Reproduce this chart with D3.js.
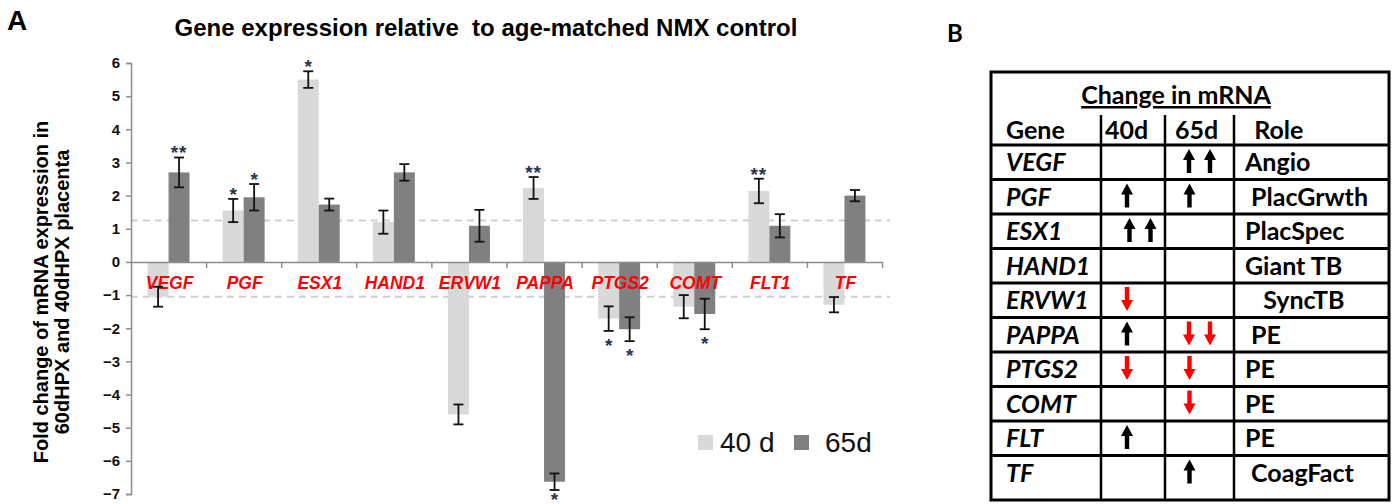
<!DOCTYPE html>
<html>
<head>
<meta charset="utf-8">
<script src="https://cdn.jsdelivr.net/npm/d3@7"></script>
<style>
  html, body { margin: 0; padding: 0; background: #fff; }
  svg { display: block; }
  text { white-space: pre; }
</style>
</head>
<body>
<svg id="chart" width="1395" height="504"></svg>
<script>
// ---------------- Data: panel A ----------------
const genes = ["VEGF", "PGF", "ESX1", "HAND1", "ERVW1", "PAPPA", "PTGS2", "COMT", "FLT1", "TF"];
const seriesNames = ["40 d", "65d"];
const values40 = [-1.05, 1.55, 5.5, 1.2, -4.6, 2.23, -1.71, -1.35, 2.14, -1.29];
const errors40 = [0.3, 0.35, 0.25, 0.35, 0.3, 0.33, 0.37, 0.35, 0.37, 0.23];
const values65 = [2.7, 1.95, 1.73, 2.7, 1.09, -6.63, -2.03, -1.57, 1.09, 2.0];
const errors65 = [0.45, 0.4, 0.18, 0.25, 0.48, 0.25, 0.36, 0.46, 0.35, 0.17];
const sig40 = ["", "*", "*", "", "", "**", "*", "", "**", ""];
const sig65 = ["**", "*", "", "", "", "*", "*", "*", "", ""];
const yTicks = [-7, -6, -5, -4, -3, -2, -1, 0, 1, 2, 3, 4, 5, 6];
const thresholds = [1.25, -1.05];
const chartTitle = "Gene expression relative  to age-matched NMX control";
const yLabelLines = ["Fold change of mRNA expression in", "60dHPX and 40dHPX placenta"];

// ---------------- Data: panel B ----------------
const tableTitle = "Change in mRNA";
const tableHeaders = ["Gene", "40d", "65d", "  Role"];
const tableGenes = ["VEGF", "PGF", "ESX1", "HAND1", "ERVW1", "PAPPA", "PTGS2", "COMT", "FLT", "TF"];
const change40 = [0, 1, 2, 0, -1, 1, -1, 0, 1, 0];   // +n = n up arrows, -n = n down arrows
const change65 = [2, 1, 0, 0, 0, -2, -1, -1, 0, 1];
const roles = ["Angio", " PlacGrwth", "PlacSpec", "Giant TB", "   SyncTB", " PE", "PE", "PE", "PE", " CoagFact"];

// ---------------- Panel A ----------------
const svg = d3.select("#chart");
const C40 = "#d9d9d9", C65 = "#808080", AXIS = "#8c8c8c";
const SANS = "'Liberation Sans', Arial, sans-serif";

const y = d3.scaleLinear().domain([-7, 6]).range([494, 63]);
const x = d3.scaleBand().domain(genes).range([131, 882]).padding(0);
const xs = d3.scaleBand().domain(seriesNames).range([0, x.bandwidth()]).paddingInner(0).paddingOuter(0.79);

const A = svg.append("g");

// title and panel letter
A.append("text").attr("x", 7).attr("y", 30).text("A")
  .attr("font-family", SANS).attr("font-weight", "bold").attr("font-size", 28);
A.append("text").attr("x", 486).attr("y", 36).attr("text-anchor", "middle").text(chartTitle)
  .attr("font-family", SANS).attr("font-weight", "bold").attr("font-size", 24);

// y label
const yl = A.append("text").attr("transform", "translate(0,292) rotate(-90)")
  .attr("text-anchor", "middle").attr("font-family", SANS).attr("font-weight", "bold").attr("font-size", 20);
yl.selectAll("tspan").data(yLabelLines).join("tspan")
  .attr("x", 0).attr("y", (d, i) => 48 + i * 21).text(d => d);

// dashed threshold lines
A.selectAll("line.thr").data(thresholds).join("line").attr("class", "thr")
  .attr("x1", 131).attr("x2", 890).attr("y1", d => y(d)).attr("y2", d => y(d))
  .attr("stroke", "#cfcfcf").attr("stroke-width", 2).attr("stroke-dasharray", "7,5");

// bars
const rows = genes.map((g, i) => [
  { g, s: seriesNames[0], v: values40[i], e: errors40[i], sig: sig40[i], c: C40 },
  { g, s: seriesNames[1], v: values65[i], e: errors65[i], sig: sig65[i], c: C65 }
]).flat();

A.selectAll("rect.bar").data(rows).join("rect").attr("class", "bar")
  .attr("x", d => x(d.g) + xs(d.s)).attr("width", xs.bandwidth())
  .attr("y", d => y(Math.max(0, d.v))).attr("height", d => Math.abs(y(d.v) - y(0)))
  .attr("fill", d => d.c);

// category labels (drawn over bars)
A.selectAll("text.cat").data(genes).join("text").attr("class", "cat")
  .attr("x", d => x(d) + x.bandwidth() / 2 + 1).attr("y", 289).attr("text-anchor", "middle")
  .attr("font-family", SANS).attr("font-style", "italic").attr("font-weight", "bold")
  .attr("font-size", 17.5).attr("fill", "#ff0000")
  .text(d => d);

// error bars
const eb = A.selectAll("g.err").data(rows).join("g").attr("class", "err")
  .attr("transform", d => `translate(${x(d.g) + xs(d.s) + xs.bandwidth() / 2},0)`);
eb.append("line").attr("y1", d => y(d.v + d.e)).attr("y2", d => y(d.v - d.e))
  .attr("stroke", "#111").attr("stroke-width", 1.8);
eb.append("line").attr("x1", -5).attr("x2", 5).attr("y1", d => y(d.v + d.e)).attr("y2", d => y(d.v + d.e))
  .attr("stroke", "#111").attr("stroke-width", 1.8);
eb.append("line").attr("x1", -5).attr("x2", 5).attr("y1", d => y(d.v - d.e)).attr("y2", d => y(d.v - d.e))
  .attr("stroke", "#111").attr("stroke-width", 1.8);

// significance stars
A.selectAll("text.sig").data(rows.filter(d => d.sig)).join("text").attr("class", "sig")
  .attr("x", d => x(d.g) + xs(d.s) + xs.bandwidth() / 2).attr("text-anchor", "middle")
  .attr("y", d => d.v >= 0 ? y(d.v + d.e) + 2 : Math.min(y(d.v - d.e) + 21, 506))
  .attr("font-family", SANS).attr("font-weight", "bold").attr("font-size", 19)
  .attr("letter-spacing", d => d.sig.length > 1 ? 1 : 0)
  .attr("fill", "#2a3452").text(d => d.sig);

// y axis
const yAxis = A.append("g").attr("transform", "translate(131,0)")
  .call(d3.axisLeft(y).tickValues(yTicks).tickFormat(d3.format("d")).tickSizeInner(5).tickSizeOuter(5).tickPadding(6));
yAxis.select(".domain").attr("stroke", AXIS).attr("stroke-width", 1.5);
yAxis.selectAll(".tick line").attr("stroke", AXIS).attr("stroke-width", 1.5);
yAxis.selectAll(".tick text").attr("font-family", SANS).attr("font-weight", "bold").attr("font-size", 15).attr("fill", "#111");

// x axis line with ticks at band edges
const xAxis = A.append("g").attr("transform", `translate(0,${y(0)})`)
  .call(d3.axisBottom(d3.scaleLinear().domain([0, genes.length]).range(x.range()))
    .tickValues(d3.range(1, genes.length + 1)).tickSizeInner(6).tickSizeOuter(0).tickFormat(""));
xAxis.select(".domain").attr("stroke", AXIS).attr("stroke-width", 1.5);
xAxis.selectAll(".tick line").attr("stroke", AXIS).attr("stroke-width", 1.5);

// legend
const leg = A.append("g");
const legX = [698, 794];
seriesNames.forEach((s, i) => {
  leg.append("rect").attr("x", legX[i]).attr("y", 435).attr("width", 15).attr("height", 15).attr("fill", i ? C65 : C40);
  leg.append("text").attr("x", legX[i] + 22 + i * 9).attr("y", 452).text(s)
    .attr("font-family", SANS).attr("font-size", 28).attr("fill", "#111");
});

// ---------------- Panel B ----------------
const B = svg.append("g");
const BF = "Lato, 'Open Sans', sans-serif";
B.append("text").attr("x", 947).attr("y", 42).text("B")
  .attr("font-family", BF).attr("font-weight", "bold").attr("font-size", 24);

const colX = [991, 1101, 1165, 1234, 1389];
const tTop = 72, tBottom = 500, headBottom = 145;
const rowY = d3.scaleBand().domain(tableGenes).range([headBottom, 490]).padding(0);
const rowBottom = (g, i) => i === tableGenes.length - 1 ? tBottom : rowY(g) + rowY.bandwidth();

// outer border
B.append("rect").attr("x", colX[0]).attr("y", tTop).attr("width", colX[4] - colX[0]).attr("height", tBottom - tTop)
  .attr("fill", "none").attr("stroke", "#000").attr("stroke-width", 3);
// header bottom + row lines
B.selectAll("line.hr").data([headBottom].concat(tableGenes.slice(0, -1).map((g, i) => rowBottom(g, i))))
  .join("line").attr("class", "hr").attr("x1", colX[0]).attr("x2", colX[4]).attr("y1", d => d).attr("y2", d => d)
  .attr("stroke", "#000").attr("stroke-width", 3);
// column lines
B.selectAll("line.vr").data(colX.slice(1, 4)).join("line").attr("class", "vr")
  .attr("x1", d => d).attr("x2", d => d).attr("y1", 115).attr("y2", tBottom)
  .attr("stroke", "#000").attr("stroke-width", 2.5);

// header
B.append("text").attr("x", 1176).attr("y", 104).attr("text-anchor", "middle").text(tableTitle)
  .attr("font-family", BF).attr("font-weight", "bold").attr("font-size", 25).attr("text-decoration", "underline");
const headX = [1006, 1105, 1175, 1242];
B.selectAll("text.hd").data(tableHeaders).join("text").attr("class", "hd")
  .attr("x", (d, i) => headX[i]).attr("y", 139).text(d => d)
  .attr("font-family", BF).attr("font-weight", "bold").attr("font-size", 25);

// gene names and roles
B.selectAll("text.gn").data(tableGenes).join("text").attr("class", "gn")
  .attr("x", 1006).attr("y", d => rowY(d) + 26).text(d => d)
  .attr("font-family", BF).attr("font-weight", "bold").attr("font-style", "italic").attr("font-size", 25);
B.selectAll("text.rl").data(roles).join("text").attr("class", "rl")
  .attr("x", 1245).attr("y", (d, i) => rowY(tableGenes[i]) + 26).text(d => d)
  .attr("font-family", BF).attr("font-weight", "bold").attr("font-size", 25);

// arrows
function arrowPath(cx, top, up) {
  const h = 24, hw = 6, hh = 11, sw = 2.2;
  if (up) {
    return `M${cx},${top} L${cx + hw},${top + hh} L${cx + sw},${top + hh} L${cx + sw},${top + h} L${cx - sw},${top + h} L${cx - sw},${top + hh} L${cx - hw},${top + hh} Z`;
  }
  const b = top + h;
  return `M${cx},${b} L${cx + hw},${b - hh} L${cx + sw},${b - hh} L${cx + sw},${top} L${cx - sw},${top} L${cx - sw},${b - hh} L${cx - hw},${b - hh} Z`;
}
const doubleShift = [7, 0];
const singleShift = [-6, -10];
const arrowData = [];
[change40, change65].forEach((arr, ci) => {
  const cellCenter = (colX[ci + 1] + colX[ci + 2]) / 2;
  arr.forEach((v, i) => {
    const n = Math.abs(v);
    for (let k = 0; k < n; k++) {
      const cx = n === 1 ? cellCenter + singleShift[ci] : cellCenter + doubleShift[ci] + (k - 0.5) * 21;
      arrowData.push({ cx, top: rowY(tableGenes[i]) + 4, up: v > 0 });
    }
  });
});
B.selectAll("path.arr").data(arrowData).join("path").attr("class", "arr")
  .attr("d", d => arrowPath(d.cx, d.top, d.up))
  .attr("fill", d => d.up ? "#000" : "#ff0000");
</script>
</body>
</html>
